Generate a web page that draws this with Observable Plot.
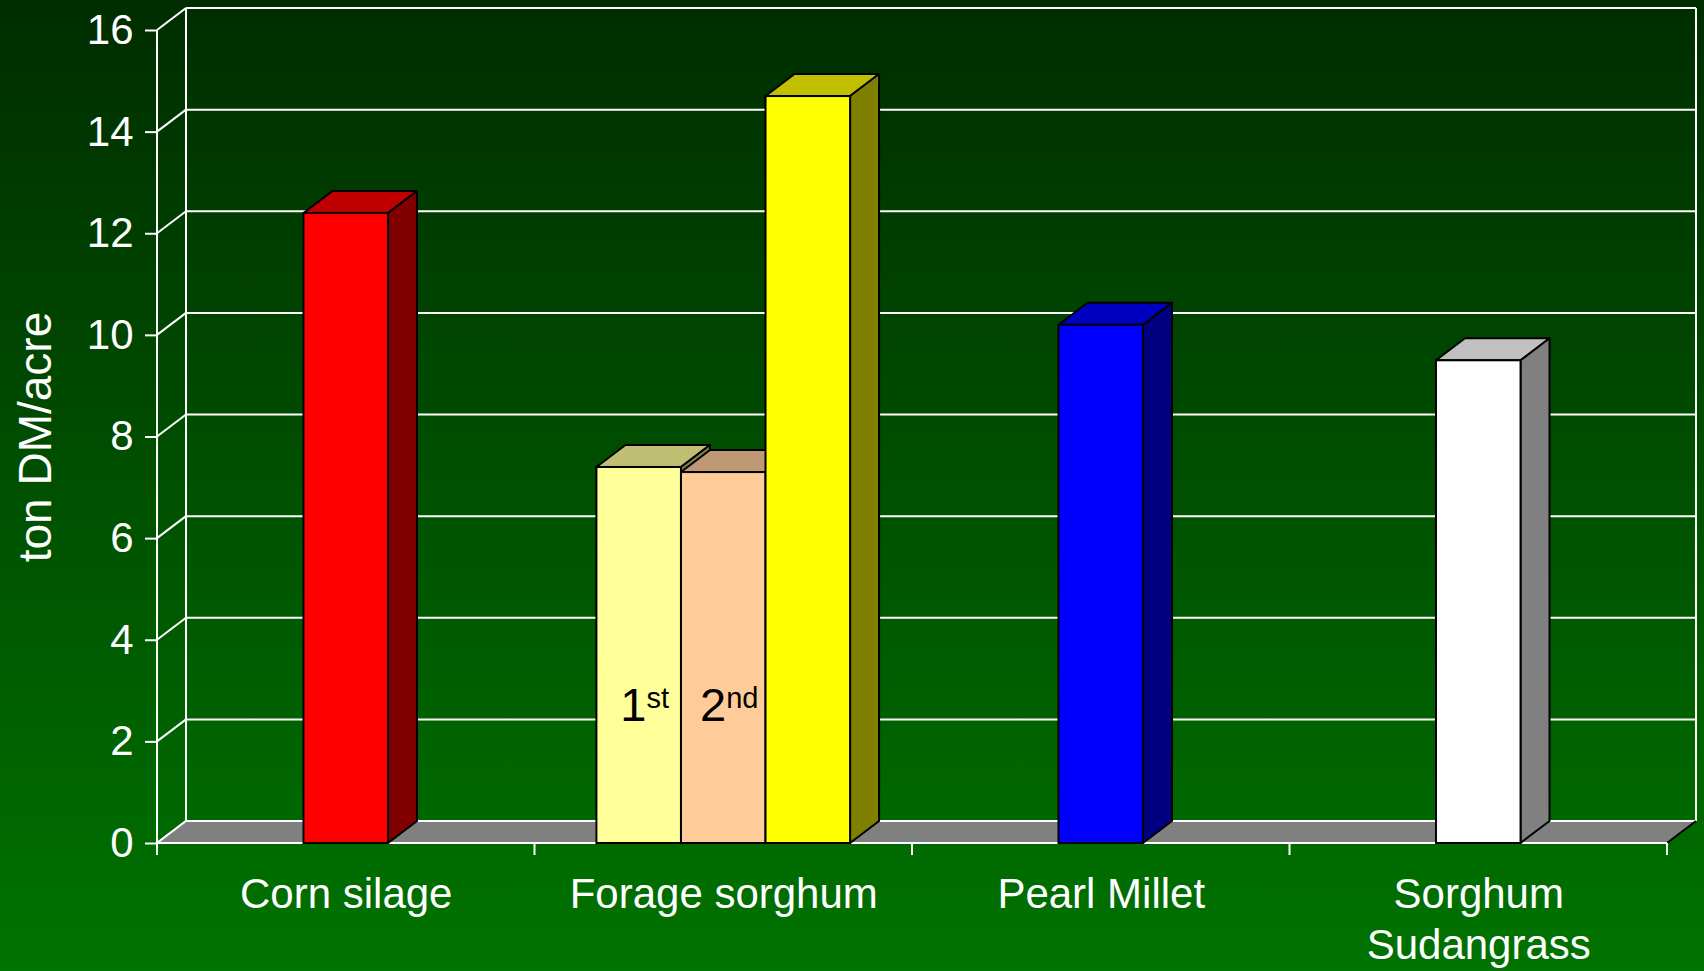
<!DOCTYPE html>
<html><head><meta charset="utf-8">
<script src="https://cdn.jsdelivr.net/npm/d3@7"></script>
<script src="https://cdn.jsdelivr.net/npm/@observablehq/plot@0.6"></script>
<style>
html,body{margin:0;padding:0;background:#004f00;overflow:hidden;}
#chart svg{display:block;}
</style></head><body><div id="chart"></div>
<script>
// ---- data ----
const categories = ["Corn silage", "Forage sorghum", "Pearl Millet", "Sorghum\nSudangrass"];
const barCategory = ["Corn silage", "Forage sorghum", "Forage sorghum", "Forage sorghum", "Pearl Millet", "Sorghum\nSudangrass"];
const barSeries = ["Corn silage", "Forage sorghum 1st", "Forage sorghum 2nd", "Forage sorghum total", "Pearl Millet", "Sorghum Sudangrass"];
const barValue = [12.4, 7.4, 7.3, 14.7, 10.2, 9.5];
const yTicks = [0, 2, 4, 6, 8, 10, 12, 14, 16];
const cutSeries = ["Forage sorghum 1st", "Forage sorghum 2nd"];
const cutBase = ["1", "2"];
const cutSup = ["st", "nd"];
const yTitle = "ton DM/acre";

// ---- styles ----
const frontColor = {"Corn silage":"#ff0000","Forage sorghum 1st":"#ffff99","Forage sorghum 2nd":"#ffcc99","Forage sorghum total":"#ffff00","Pearl Millet":"#0000ff","Sorghum Sudangrass":"#ffffff"};
const topColor = {"Corn silage":"#c00000","Forage sorghum 1st":"#bfbf73","Forage sorghum 2nd":"#bf9973","Forage sorghum total":"#c0c000","Pearl Millet":"#0000c0","Sorghum Sudangrass":"#c0c0c0"};
const sideColor = {"Corn silage":"#800000","Forage sorghum 1st":"#80804d","Forage sorghum 2nd":"#806650","Forage sorghum total":"#808000","Pearl Millet":"#000080","Sorghum Sudangrass":"#808080"};
const DX = 29, DY = 22;       // 3-D depth offset in pixels
const BAR_W = 0.224;          // bar width as a fraction of a category slot
const LABEL_AT = 2.4;         // value at which the 1st / 2nd baselines sit

// ---- table built from the arrays ----
const groups = d3.group(d3.range(barValue.length), i => barCategory[i]);
const bars = barValue.map((v, i) => {
  const ci = categories.indexOf(barCategory[i]);
  const members = groups.get(barCategory[i]);
  const k = members.indexOf(i), n = members.length;
  const c = ci + 0.5 + (k - (n - 1) / 2) * BAR_W;
  return {series: barSeries[i], value: v, x1: c - BAR_W / 2, x2: c + BAR_W / 2};
});

function line(g, a, b, color, w = 2) {
  g.append("line").attr("x1", a[0]).attr("y1", a[1]).attr("x2", b[0]).attr("y2", b[1])
    .attr("stroke", color).attr("stroke-width", w);
}

// back wall grid, floor, front axis lines
function backdrop(index, {x, y}) {
  const g = d3.create("svg:g");
  const x0 = x(0), x1 = x(categories.length), y0 = y(0), yTop = y(d3.max(yTicks));
  for (const t of yTicks) {
    line(g, [x0, y(t)], [x0 + DX, y(t) - DY], "#fff");
    line(g, [x0 + DX, y(t) - DY], [x1 + DX, y(t) - DY], "#fff");
  }
  line(g, [x0 + DX, y0 - DY], [x0 + DX, yTop - DY], "#fff");
  line(g, [x1 + DX, y0 - DY], [x1 + DX, yTop - DY], "#fff");
  g.append("polygon")
    .attr("points", [[x0, y0], [x1, y0], [x1 + DX, y0 - DY], [x0 + DX, y0 - DY]].map(p => p.join(",")).join(" "))
    .attr("fill", "#808080");
  line(g, [x0 + DX, y0 - DY], [x1 + DX, y0 - DY], "#fff");
  line(g, [x0, y0], [x0 + DX, y0 - DY], "#fff");
  line(g, [x1, y0], [x1 + DX, y0 - DY], "#000");
  line(g, [x0, y0], [x1, y0], "#fff");
  line(g, [x0, y0 + 12], [x0, yTop], "#fff");
  for (let i = 0; i <= categories.length; i++) line(g, [x(i), y0], [x(i), y0 + 12], "#fff");
  return g.node();
}

// tops and right sides of the 3-D columns
function depthFaces(index, {x, y}) {
  const g = d3.create("svg:g").attr("stroke", "#000").attr("stroke-width", 2).attr("stroke-linejoin", "round");
  const pts = a => a.map(p => p.join(",")).join(" ");
  for (const b of bars) {
    const L = x(b.x1), R = x(b.x2), T = y(b.value), B = y(0);
    g.append("polygon").attr("points", pts([[L, T], [R, T], [R + DX, T - DY], [L + DX, T - DY]])).attr("fill", topColor[b.series]);
    g.append("polygon").attr("points", pts([[R, T], [R + DX, T - DY], [R + DX, B - DY], [R, B]])).attr("fill", sideColor[b.series]);
  }
  return g.node();
}

// "1st" / "2nd" labels with superscripts
function cutLabels(index, {x, y}) {
  const g = d3.create("svg:g").attr("font-family", "Liberation Sans, Arial, sans-serif").attr("fill", "#000");
  cutSeries.forEach((s, i) => {
    const b = bars.find(d => d.series === s);
    const t = g.append("text").attr("x", (x(b.x1) + x(b.x2)) / 2 + 6).attr("y", y(LABEL_AT))
      .attr("text-anchor", "middle").attr("font-size", 47);
    t.append("tspan").text(cutBase[i]);
    t.append("tspan").attr("font-size", 29).attr("dy", -13).text(cutSup[i]);
  });
  return g.node();
}

const chart = Plot.plot({
  width: 1704,
  height: 971,
  marginLeft: 157,
  marginRight: 37,
  marginTop: 30,
  marginBottom: 128,
  style: {
    fontFamily: "Liberation Sans, Arial, sans-serif",
    background: "linear-gradient(to bottom, #002d00, #007300)",
    color: "#fff",
    overflow: "visible"
  },
  x: {type: "linear", domain: [0, categories.length]},
  y: {domain: [0, 16]},
  color: {type: "identity"},
  marks: [
    backdrop,
    depthFaces,
    Plot.rect(bars, {x1: "x1", x2: "x2", y1: 0, y2: "value", fill: d => frontColor[d.series], stroke: "#000", strokeWidth: 2}),
    cutLabels,
    Plot.axisY(yTicks, {tickSize: 12, tickPadding: 12, fontSize: 42, stroke: "#fff", fill: "#fff", strokeWidth: 2, label: null, tickFormat: d => String(d)}),
    Plot.axisX(categories.map((c, i) => i + 0.5), {tickSize: 0, tickPadding: 28, fontSize: 42, lineHeight: 1.22, fill: "#fff", label: null, tickFormat: d => categories[Math.floor(d)]}),
    Plot.text([yTitle], {frameAnchor: "left", textAnchor: "middle", lineAnchor: "middle", text: d => d, rotate: -90, dx: -121, fontSize: 46, fill: "#fff"})
  ]
});
document.getElementById("chart").append(chart);
</script>
</body></html>
